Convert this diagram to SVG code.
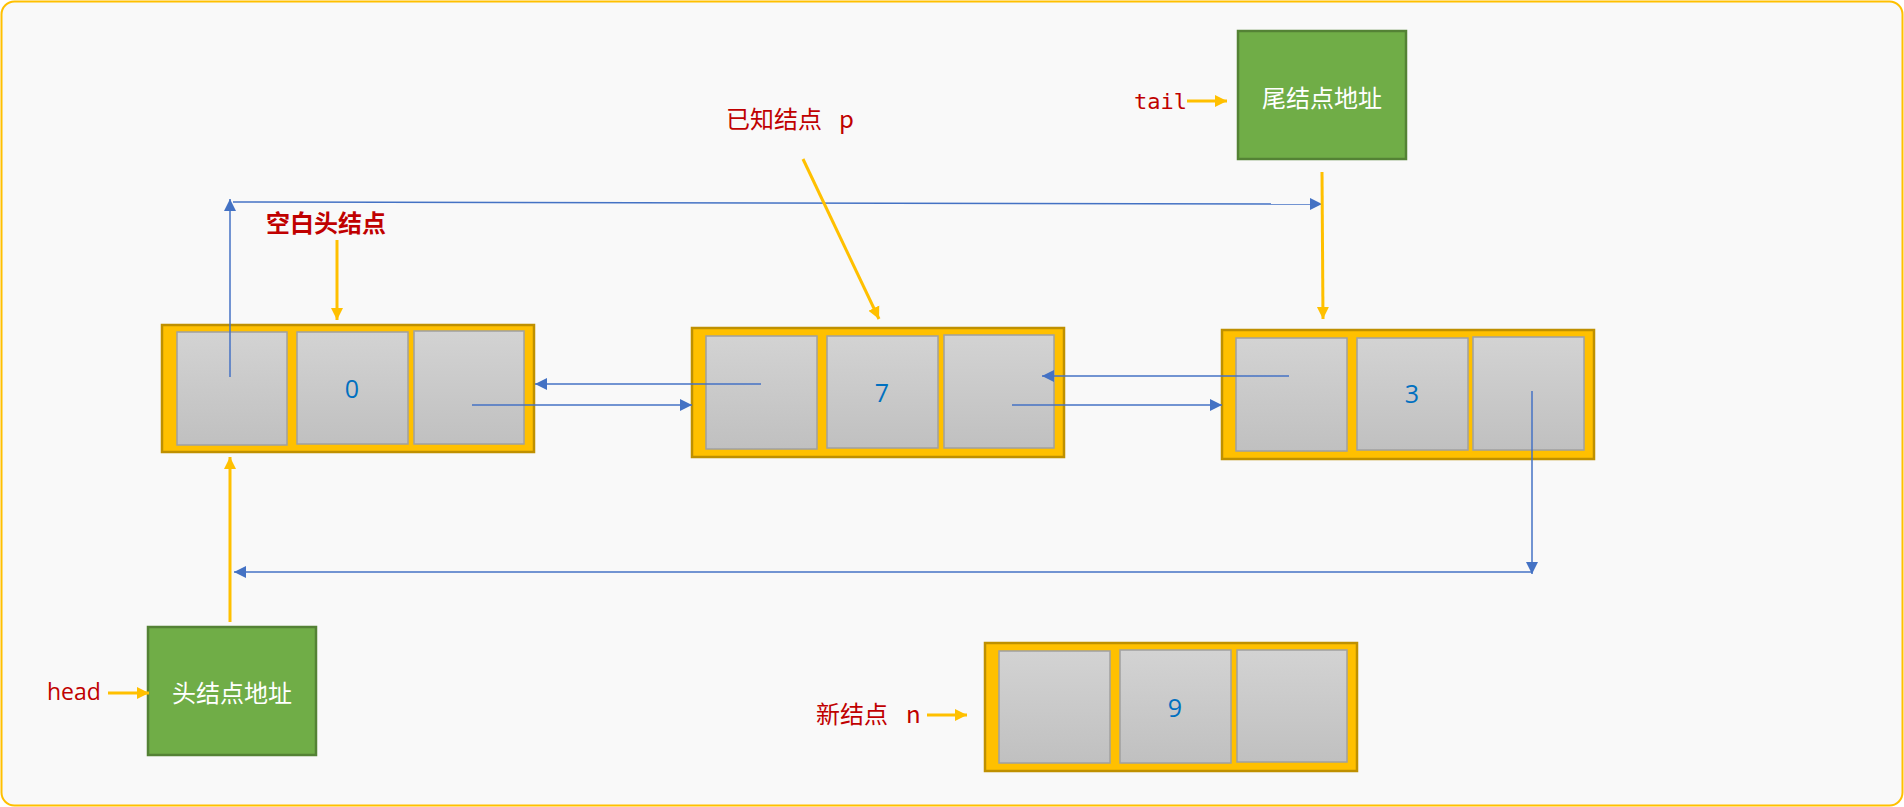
<svg xmlns="http://www.w3.org/2000/svg" width="1904" height="807" viewBox="0 0 1904 807">
<defs>
<linearGradient id="cellg" x1="0" y1="0" x2="0" y2="1">
<stop offset="0" stop-color="#D3D3D3"/>
<stop offset="1" stop-color="#C0C0C0"/>
</linearGradient>
<marker id="ab" viewBox="0 0 12 12" refX="12" refY="6" markerWidth="12" markerHeight="12" markerUnits="userSpaceOnUse" orient="auto">
<path d="M0,0 L12,6 L0,12 z" fill="#4472C4"/>
</marker>
<marker id="ay" viewBox="0 0 12 12" refX="12" refY="6" markerWidth="12" markerHeight="13" markerUnits="userSpaceOnUse" orient="auto">
<path d="M0,0 L12,6 L0,12 z" fill="#FFC000"/>
</marker>
</defs>
<style>
.frame{fill:#F9F9F9;stroke:#FFC000;stroke-width:2}
.outer{fill:#FFC000;stroke:#BF9000;stroke-width:2.5}
.cell{fill:url(#cellg);stroke:#A0A0A0;stroke-width:1.5}
.green{fill:#70AD47;stroke:#548235;stroke-width:2.5}
.num{font-family:"Open Sans","Noto Sans",sans-serif;font-size:25px;fill:#0070C0;text-anchor:middle;dominant-baseline:central}
.wt{font-family:"Noto Sans CJK SC",sans-serif;font-size:24px;fill:#FFFFFF;text-anchor:middle;dominant-baseline:central}
.red{font-family:"Noto Sans CJK SC",sans-serif;font-size:24px;fill:#C00000}
.mono{font-family:"DejaVu Sans Mono",monospace;font-size:22px;fill:#C00000}
.bl{fill:none;stroke:#4472C4;stroke-width:1.5;marker-end:url(#ab)}
.yl{fill:none;stroke:#FFC000;stroke-width:3;marker-end:url(#ay)}
</style>
<rect class="frame" x="1.5" y="1.5" width="1901" height="804" rx="13"/>

<g id="node0">
<rect class="outer" x="162" y="325" width="372" height="127"/>
<rect class="cell" x="177" y="332" width="110" height="113"/>
<rect class="cell" x="297" y="332" width="111" height="112"/>
<rect class="cell" x="414" y="331" width="110" height="113"/>
<text class="num" x="352" y="388">0</text>
</g>
<g id="node7">
<rect class="outer" x="692" y="328" width="372" height="129"/>
<rect class="cell" x="706" y="336" width="111" height="113"/>
<rect class="cell" x="827" y="336" width="111" height="112"/>
<rect class="cell" x="944" y="335" width="110" height="113"/>
<text class="num" x="882" y="392">7</text>
</g>
<g id="node3">
<rect class="outer" x="1222" y="330" width="372" height="129"/>
<rect class="cell" x="1236" y="338" width="111" height="113"/>
<rect class="cell" x="1357" y="338" width="111" height="112"/>
<rect class="cell" x="1473" y="337" width="111" height="113"/>
<text class="num" x="1412" y="393">3</text>
</g>
<g id="node9">
<rect class="outer" x="985" y="643" width="372" height="128"/>
<rect class="cell" x="999" y="651" width="111" height="112"/>
<rect class="cell" x="1120" y="650" width="111" height="113"/>
<rect class="cell" x="1237" y="650" width="110" height="112"/>
<text class="num" x="1175" y="707">9</text>
</g>
<g id="headbox">
<rect class="green" x="148" y="627" width="168" height="128"/>
<text class="wt" x="232" y="691">头结点地址</text>
</g>
<g id="tailbox">
<rect class="green" x="1238" y="31" width="168" height="128"/>
<text class="wt" x="1322" y="96">尾结点地址</text>
</g>
<g id="labels">
<text x="266" y="221" style="font-family:'Noto Sans CJK SC',sans-serif;font-size:24px;font-weight:bold;fill:#C00000;dominant-baseline:central">空白头结点</text>
<text class="red" x="726" y="128">已知结点<tspan x="839">p</tspan></text>
<text class="red" x="816" y="723">新结点<tspan x="906">n</tspan></text>
<text x="47" y="700" style="font-family:'Open Sans','Noto Sans',sans-serif;font-size:23px;fill:#C00000">head</text>
<text class="mono" x="1134" y="109">tail</text>
</g>
<g id="connectors">
<path class="bl" d="M230,377 L230,199"/>
<path class="bl" d="M233,202 L1322,204"/>
<path class="bl" d="M761,384 L535,384"/>
<path class="bl" d="M472,405 L692,405"/>
<path class="bl" d="M1289,376 L1042,376"/>
<path class="bl" d="M1012,405 L1222,405"/>
<path class="bl" d="M1532,391 L1532,574"/>
<path class="bl" d="M1532,572 L234,572"/>
<path class="yl" d="M337,240 L337,320"/>
<path class="yl" d="M803,159 L879,319"/>
<path class="yl" d="M1322,172 L1323,319"/>
<path class="yl" d="M1187,101 L1227,101"/>
<path class="yl" d="M230,622 L230,457"/>
<path class="yl" d="M108,693 L149,693"/>
<path class="yl" d="M927,715 L967,715"/>
</g>
</svg>
